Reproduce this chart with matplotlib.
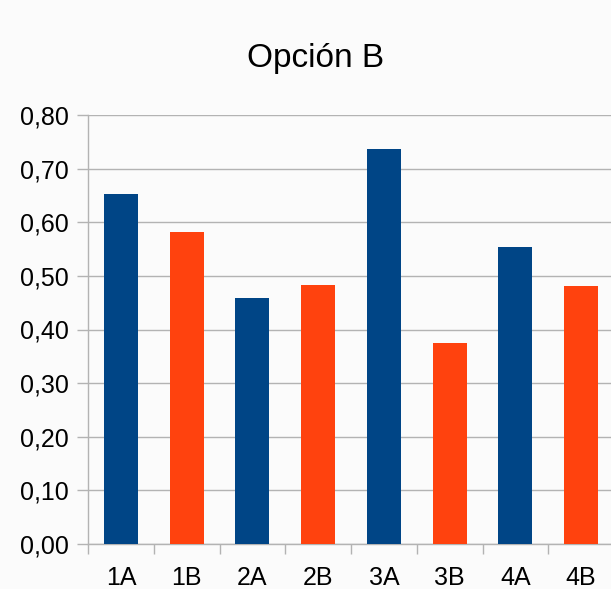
import matplotlib
matplotlib.use("Agg")
import matplotlib.pyplot as plt
from matplotlib.ticker import FuncFormatter

categories = ["1A", "1B", "2A", "2B", "3A", "3B", "4A", "4B"]
values = [0.653, 0.582, 0.459, 0.483, 0.737, 0.375, 0.554, 0.481]
colors = ["#004586", "#ff420e"] * 4
title = "Opción B"

plt.rcParams['font.family'] = ['Liberation Sans', 'DejaVu Sans']

fig = plt.figure(figsize=(6.11, 5.89), dpi=100)
fig.patch.set_facecolor("#fbfbfb")
ax = fig.add_axes([88/611, 45/589, 526/611, 429/589])
ax.set_facecolor("#fbfbfb")

x = list(range(len(categories)))
ax.bar(x, values, width=0.52, color=colors, zorder=3)

ax.set_xlim(-0.5, len(categories) - 0.5)
ax.set_ylim(0, 0.8)
ax.set_yticks([i / 10 for i in range(9)])
ax.yaxis.set_major_formatter(FuncFormatter(lambda v, p: f"{v:.2f}".replace(".", ",")))
ax.set_xticks(x)
ax.set_xticklabels(categories)
ax.set_xticks([i - 0.5 for i in range(len(categories) + 1)], minor=True)

ax.grid(axis="y", color="#b3b3b3", linewidth=1, zorder=0)
for s in ["top", "right"]:
    ax.spines[s].set_visible(False)
for s in ["left", "bottom"]:
    ax.spines[s].set_color("#b3b3b3")
    ax.spines[s].set_linewidth(1)

ax.tick_params(axis="y", length=8, width=1, color="#b3b3b3", labelsize=18, pad=6, labelcolor="#000000")
ax.tick_params(axis="x", which="major", length=0, labelsize=18, pad=16)
ax.tick_params(axis="x", which="minor", length=7.5, width=1, color="#b3b3b3")

fig.text(316/611, 1 - 58/589, title, ha="center", va="center", fontsize=24)

fig.savefig("out.png", dpi=100, facecolor=fig.get_facecolor())
